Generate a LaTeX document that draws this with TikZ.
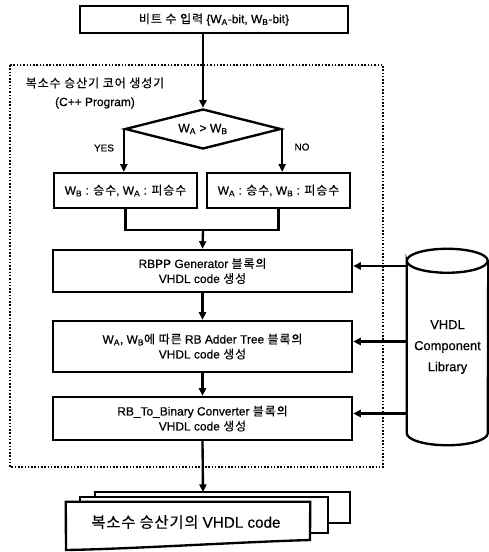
\documentclass[tikz,border=0pt]{standalone}
\usepackage{fontspec}
\setmainfont{Liberation Sans}[FakeBold=0.5]
\newfontfamily\kr{Noto Sans CJK KR}[LetterSpace=8, FakeBold=0.3]
\newfontfamily\krwide{Noto Sans CJK KR}[LetterSpace=6, FakeBold=0.3]
\usetikzlibrary{calc}
\usetikzlibrary{positioning}
\usetikzlibrary{shapes.geometric}
\usetikzlibrary{arrows.meta}

\newcommand{\W}[1]{W\textsubscript{#1}}

\tikzset{
    box/.style={draw, line width=2pt, fill=white, align=center, inner sep=0pt,
        font=\fontsize{10.2}{12.8}\selectfont},
    test/.style={draw, diamond, aspect=4, line width=2pt, inner sep=0pt,
        minimum width=4.68cm, minimum height=1.2cm, font=\fontsize{10.4}{12}\selectfont},
    flow/.style={line width=2pt, -{Triangle[length=6.5pt,width=6pt]}},
    link/.style={line width=2pt},
    frame/.style={line width=2.2pt, dash pattern=on 1.3pt off 1.5pt},
    tag/.style={font=\fontsize{8.5}{10}\selectfont},
}

\begin{document}
\begin{tikzpicture}[x=0.03cm, y=-0.03cm]
    \useasboundingbox (0,0) rectangle (489,552);
    % core generator
    \draw[frame] (10,65) rectangle (383,467);
    \node[align=center, font=\fontsize{10.2}{16}\selectfont] (gen) at (95,93)
        {{\kr 복소수 승산기 코어 생성기}\\(C++ Program)};

    \node[box, minimum width=8.04cm, minimum height=0.81cm] (input) at (214,19.5)
        {{\kr 비트 수 입력} \{\W{A}-bit, \W{B}-bit\}};
    \node[test] (cmp) at (203,129) {\W{A} > \W{B}};
    \node[box, minimum width=4.29cm, minimum height=1.05cm] (swapB) at (125.5,190.5)
        {\W{B} : {\kr 승수}, \W{A} : {\kr 피승수}};
    \node[box, minimum width=4.29cm, minimum height=1.05cm] (swapA) at (278.5,190.5)
        {\W{A} : {\kr 승수}, \W{B} : {\kr 피승수}};
    \node[tag] (yes) at (104,148) {YES};
    \node[tag] (no) at (302,147) {NO};

    \node[box, minimum width=8.97cm, minimum height=1.26cm] (rbpp) at (202.5,271)
        {RBPP Generator {\kr 블록의}\\VHDL code {\kr 생성}};
    \node[box, minimum width=8.97cm, minimum height=1.53cm] (adder) at (202.5,346.5)
        {\W{A}, \W{B}{\kr 에 따른} RB Adder Tree {\kr 블록의}\\VHDL code {\kr 생성}};
    \node[box, minimum width=8.97cm, minimum height=1.29cm] (conv) at (202.5,418.5)
        {RB\_To\_Binary Converter {\kr 블록의}\\VHDL code {\kr 생성}};

    % component library
    \node[align=center, minimum width=2.43cm, minimum height=5.88cm,
        font=\fontsize{11}{18}\selectfont] (lib) at (447.5,347)
        {VHDL\\Component\\Library};
    \draw[link] ($(lib.north west)+(0,12)$) arc[start angle=180, end angle=-180, x radius=40.5, y radius=-12]
        -- ($(lib.south west)+(0,-12)$) arc[start angle=180, end angle=360, x radius=40.5, y radius=-12]
        -- ($(lib.north east)+(0,12)$);

    % output stack
    \draw[link, fill=white] (95,523) -- (95,492) -- (350,492) -- (350,523) -- cycle;
    \draw[link, fill=white] (80,533) -- (80,497) -- (328,497) -- (328,533) -- cycle;
    \node[minimum width=7.32cm, minimum height=1.2cm] (out) at (188,522) {};
    \draw[link, fill=white] (out.north west) -- (out.north east) -- (310,540)
        .. controls (240,542) and (130,549) .. (66,550) -- cycle;
    \node[font=\fontsize{13}{14}\selectfont] (outtext) at (186,522) {{\krwide 복소수 승산기의} VHDL code};
    \coordinate (stacktop) at (203,492);

    % connectors
    \draw[flow] (cmp.north |- input.south) -- (cmp.north);
    \draw[flow] (cmp.west) -- (cmp.west |- swapB.north);
    \draw[flow] (cmp.east) -- (cmp.east |- swapA.north);
    \coordinate (merge) at (203,230);
    \draw[link] (swapB.south) |- (merge) -| (swapA.south);
    \draw[flow] (merge) -- (rbpp.north);
    \draw[flow] (rbpp) -- (adder);
    \draw[flow] (adder.south) -- (conv.north);
    \draw[flow] (conv.south) -- (stacktop);
    \foreach \b in {rbpp, adder, conv}
        \draw[flow] ($(lib.west |- \b.east)+(0,-5)$) -- ($(\b.east)+(0,-5)$);
\end{tikzpicture}
\end{document}
